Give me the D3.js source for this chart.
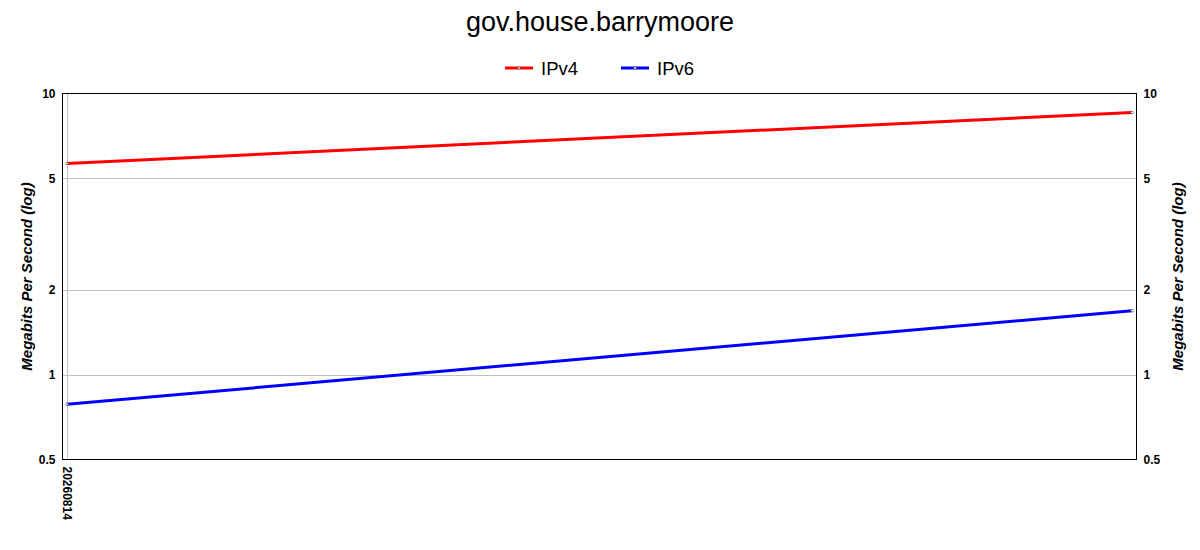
<!DOCTYPE html>
<html>
<head>
<meta charset="utf-8">
<script src="https://cdn.jsdelivr.net/npm/d3@7"></script>
<style>
  body { margin: 0; background: #fff; }
  svg { font-family: "Liberation Sans", Arial, sans-serif; }
</style>
</head>
<body>
<svg id="chart" width="1200" height="550"></svg>
<script>
// datos
const dates = ["20260814", "20260815"];
const xTickLabels = ["20260814"];
const ipv4 = [5.64, 8.56];
const ipv6 = [0.786, 1.69];
const yTicks = [0.5, 1, 2, 5, 10];
const seriesNames = ["IPv4", "IPv6"];
const seriesColors = ["#ff0000", "#0000ff"];

const svg = d3.select("#chart");
const plotLeft = 62.5, plotRight = 1136.5, plotTop = 93.5, plotBottom = 459.5;

const x = d3.scalePoint().domain(dates).range([67, 1132]);
const y = d3.scaleLog().domain([0.5, 10]).range([plotBottom, plotTop]);

// titulo
svg.append("text")
  .attr("x", 600).attr("y", 31)
  .attr("text-anchor", "middle")
  .attr("font-size", 27)
  .text("gov.house.barrymoore");

// leyenda
const legendX = [505, 621];
seriesNames.forEach((name, i) => {
  const g = svg.append("g").attr("transform", `translate(${legendX[i]},68)`);
  g.append("line").attr("x1", 0).attr("x2", 28).attr("stroke", seriesColors[i]).attr("stroke-width", 3);
  g.append("circle").attr("cx", 14).attr("r", 1.3).attr("fill", "#fff").attr("stroke", "#333").attr("stroke-width", 0.6);
  g.append("text").attr("x", 36).attr("y", 7).attr("font-size", 18.5).text(name);
});

// rejilla horizontal
svg.append("g")
  .selectAll("line")
  .data(yTicks.filter(t => t > 0.5 && t < 10))
  .join("line")
  .attr("x1", plotLeft).attr("x2", plotRight)
  .attr("y1", d => Math.round(y(d)) + 0.5).attr("y2", d => Math.round(y(d)) + 0.5)
  .attr("stroke", "#c0c0c0");

// rejilla vertical (categoria)
svg.append("g")
  .selectAll("line")
  .data(xTickLabels)
  .join("line")
  .attr("x1", d => Math.round(x(d)) + 0.5).attr("x2", d => Math.round(x(d)) + 0.5)
  .attr("y1", plotTop).attr("y2", plotBottom)
  .attr("stroke", "#c0c0c0");

// borde
svg.append("rect")
  .attr("x", plotLeft).attr("y", plotTop)
  .attr("width", plotRight - plotLeft).attr("height", plotBottom - plotTop)
  .attr("fill", "none").attr("stroke", "#000").attr("stroke-width", 1);

// ejes y
const fmt = d => String(d);
const yLeft = svg.append("g")
  .attr("transform", `translate(${plotLeft},0)`)
  .call(d3.axisLeft(y).tickValues(yTicks).tickFormat(fmt).tickSize(0).tickPadding(7));
const yRight = svg.append("g")
  .attr("transform", `translate(${plotRight},0)`)
  .call(d3.axisRight(y).tickValues(yTicks).tickFormat(fmt).tickSize(0).tickPadding(7));
[yLeft, yRight].forEach(a => {
  a.select(".domain").remove();
  a.selectAll("text").attr("font-size", 12).attr("font-weight", "bold").attr("fill", "#000")
    .attr("font-family", "Liberation Sans, Arial, sans-serif");
});

// eje x
const xAxis = svg.append("g")
  .attr("transform", `translate(0,${plotBottom})`)
  .call(d3.axisBottom(x).tickValues(xTickLabels).tickSize(0));
xAxis.select(".domain").remove();
xAxis.selectAll("text")
  .attr("font-size", 12).attr("font-weight", "bold").attr("fill", "#000")
  .attr("font-family", "Liberation Sans, Arial, sans-serif")
  .attr("transform", "rotate(90)")
  .attr("x", 7).attr("y", 0).attr("dy", "0.35em")
  .attr("text-anchor", "start");

// titulos de eje
[27, 1178].forEach(cx => {
  svg.append("text")
    .attr("transform", `translate(${cx},${(plotTop + plotBottom) / 2}) rotate(-90)`)
    .attr("text-anchor", "middle")
    .attr("dy", "0.35em")
    .attr("font-size", 15).attr("font-weight", "bold").attr("font-style", "italic")
    .text("Megabits Per Second (log)");
});

// series
const series = [ipv4, ipv6];
const line = d3.line().x((d, i) => x(dates[i])).y(d => y(d));
series.forEach((vals, i) => {
  svg.append("path")
    .datum(vals)
    .attr("d", line)
    .attr("fill", "none")
    .attr("stroke", seriesColors[i])
    .attr("stroke-width", 3);
  svg.append("g")
    .selectAll("circle")
    .data(vals)
    .join("circle")
    .attr("cx", (d, j) => x(dates[j]))
    .attr("cy", d => y(d))
    .attr("r", 1.3)
    .attr("fill", "#fff")
    .attr("stroke", "#333")
    .attr("stroke-width", 0.6);
});
</script>
</body>
</html>
